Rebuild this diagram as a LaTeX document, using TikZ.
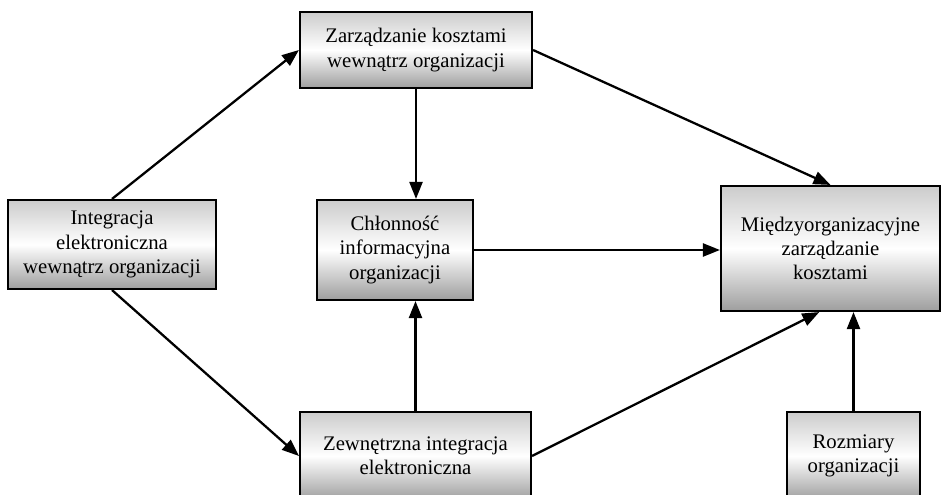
\documentclass[tikz,border=0pt]{standalone}
\usepackage{fontspec}
\setmainfont{Liberation Serif}
\usepackage{tikz}
\usetikzlibrary{
	arrows.meta,
	positioning
}

\begin{document}
\begin{tikzpicture}[
    area/.style={rectangle, draw, line width=1.2pt, align=center, inner sep=0pt,
        top color=black!20, bottom color=black!38, middle color=white,
        font=\fontsize{11.8}{13.8}\selectfont},
    arrow/.style={-{Triangle[length=3.4mm, width=2.6mm]}, line width=1.3pt}
]
\useasboundingbox (0,0) rectangle (18.84,9.9);

\node[area, minimum width=4.16cm, minimum height=1.78cm] (internal) at (2.24,5.01) {Integracja\\elektroniczna\\wewnątrz organizacji};
\node[area, minimum width=4.64cm, minimum height=1.52cm] (costs) at (8.32,8.9) {Zarządzanie kosztami\\wewnątrz organizacji};
\node[area, minimum width=3.12cm, minimum height=2.0cm] (capacity) at (7.9,4.9) {Chłonność\\informacyjna\\organizacji};
\node[area, minimum width=4.38cm, minimum height=2.5cm] (interorg) at (16.61,4.93) {Międzyorganizacyjne\\zarządzanie\\kosztami};
\node[area, minimum width=4.62cm, minimum height=1.76cm] (external) at (8.31,0.78) {Zewnętrzna integracja\\elektroniczna};
\node[area, minimum width=2.66cm, minimum height=1.76cm] (size) at (17.07,0.78) {Rozmiary\\organizacji};

\draw[arrow] (internal.north) -- (costs.west);
\draw[arrow] (internal.south) -- (external.west);
\draw[arrow] (costs.south) -- (costs.south |- capacity.north);
\draw[arrow] (external.north) -- (external.north |- capacity.south);
\draw[arrow] (costs.east) -- (interorg.north);
\draw[arrow] (capacity.east) -- (capacity.east -| interorg.west);
\draw[arrow] (external.east) -- (interorg.260);
\draw[arrow] (size.north) -- (size.north |- interorg.south);
\end{tikzpicture}
\end{document}
